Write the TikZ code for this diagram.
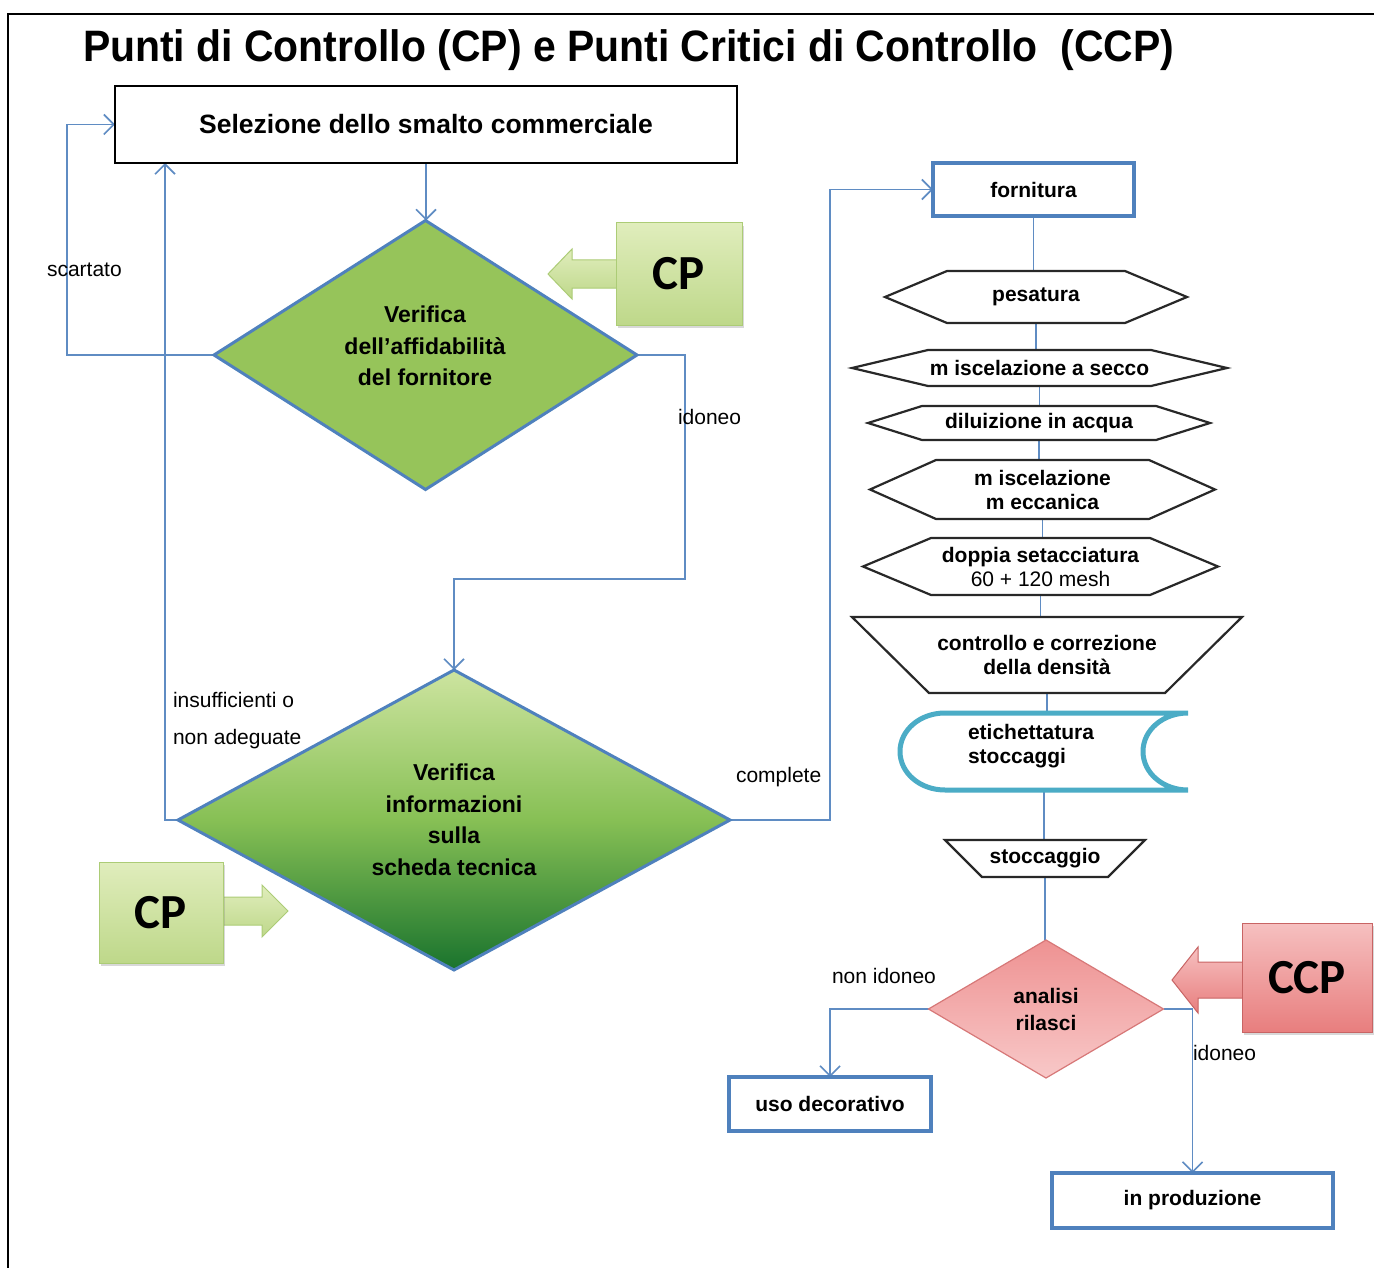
\documentclass[tikz,border=0pt]{standalone}
\usepackage{fontspec}
\setmainfont{Liberation Sans}
\newfontfamily\titlefont{Liberation Sans}[FakeStretch=0.93]
\newfontfamily\cpfont{Carlito}
\usetikzlibrary{arrows.meta,shapes.geometric,calc,shadows}
\pgfdeclarelayer{bgl}
\pgfdeclarelayer{lines}
\pgfdeclarelayer{shapes}
\pgfsetlayers{bgl,lines,shapes,main}
\definecolor{connc}{RGB}{95,140,195}
\definecolor{dblue}{RGB}{79,129,189}
\definecolor{gone}{RGB}{150,196,90}
\definecolor{gtwotop}{RGB}{205,228,160}
\definecolor{gtwomid}{RGB}{135,192,85}
\definecolor{gtwobot}{RGB}{25,115,45}
\definecolor{cptop}{RGB}{224,237,188}
\definecolor{cpbot}{RGB}{190,216,138}
\definecolor{cpline}{RGB}{172,204,118}
\definecolor{ccptop}{RGB}{246,192,192}
\definecolor{ccpbot}{RGB}{232,126,126}
\definecolor{ccpline}{RGB}{200,100,100}
\definecolor{pinktop}{RGB}{238,146,146}
\definecolor{pinkbot}{RGB}{248,200,200}
\definecolor{pinkline}{RGB}{215,120,120}
\definecolor{tealc}{RGB}{75,172,198}
\definecolor{shapeline}{RGB}{40,40,40}
\newcommand\myfs[2]{\fontsize{#1}{#2}\selectfont}
\newcommand\hexout[2]{%
  \begin{pgfonlayer}{shapes}
  \draw[outline] (#1.west) -- ([xshift=#2pt]#1.north west) -- ([xshift=-#2pt]#1.north east) -- (#1.east) -- ([xshift=-#2pt]#1.south east) -- ([xshift=#2pt]#1.south west) -- cycle;
  \end{pgfonlayer}}
\newcommand\trapout[2]{%
  \begin{pgfonlayer}{shapes}
  \draw[outline] (#1.north west) -- (#1.north east) -- ([xshift=-#2pt]#1.south east) -- ([xshift=#2pt]#1.south west) -- cycle;
  \end{pgfonlayer}}
\begin{document}
\begin{tikzpicture}[x=1pt,y=-1pt,
  every node/.style={inner sep=0pt, outer sep=0pt},
  conn/.style={draw=connc, line width=1.6pt, -{Straight Barb[length=10pt,width=20pt]}},
  plain/.style={draw=connc, line width=1.6pt},
  bluebox/.style={draw=dblue, line width=4pt, fill=white, font=\bfseries\myfs{21}{24}, align=center},
  frame/.style={draw=none, font=\bfseries\myfs{21}{24}, align=center},
  outline/.style={draw=shapeline, line width=2.2pt, fill=white, line join=miter},
  lbl/.style={anchor=west, font=\myfs{21}{24}},
  dtext/.style={font=\bfseries\myfs{23}{31.5}, align=center},
  cpfill/.style={top color=cptop, bottom color=cpbot, draw=cpline, line width=1pt},
  ccpfill/.style={top color=ccptop, bottom color=ccpbot, draw=ccpline, line width=1pt},
  cptext/.style={font=\cpfont\bfseries\myfs{49}{49}},
  shad/.style={drop shadow={shadow xshift=2pt, shadow yshift=-3pt, opacity=0.3}},
]
\useasboundingbox (0,0) rectangle (1374,1268);
\begin{pgfonlayer}{bgl}
\fill[white] (0,0) rectangle (1374,1268);
\end{pgfonlayer}
\draw[line width=2.5pt] (8,1268) -- (8,14) -- (1374,14);

% title
\node[anchor=base west, font=\titlefont\bfseries\myfs{44}{50}] (title) at (83,62)
  {Punti di Controllo (CP) e Punti Critici di Controllo~~(CCP)};

% left part
\node[draw=black, line width=2pt, fill=white, minimum width=622pt, minimum height=77pt,
  font=\bfseries\myfs{26.5}{30}] (sel) at (426,124.5) {Selezione dello smalto commerciale};

\node[diamond, draw=dblue, line width=3pt, fill=gone, minimum width=423pt, minimum height=269pt] (d1) at (425.5,355) {};
\node[dtext] (d1t) at (425,346) {Verifica\\dell'affidabilità\\del fornitore};

\node[diamond, draw=dblue, line width=3pt, top color=gtwotop, bottom color=gtwobot, middle color=gtwomid,
  minimum width=552pt, minimum height=300pt, dtext] (d2) at (454,820) {Verifica\\informazioni\\sulla\\scheda tecnica};

% CP callouts
\node[cpfill, shad, minimum width=126pt, minimum height=102pt, cptext] (cp1) at (679,274) {CP};
\begin{pgfonlayer}{shapes}
\path[cpfill] (620,260) -- (572,260) -- (572,249) -- (548,274) -- (572,299) -- (572,288) -- (620,288) -- cycle;
\end{pgfonlayer}

\node[cpfill, shad, minimum width=124pt, minimum height=101pt, cptext] (cp2) at (161,912.5) {CP};
\begin{pgfonlayer}{shapes}
\path[cpfill] (218,897) -- (262,897) -- (262,885) -- (288,911) -- (262,937) -- (262,925) -- (218,925) -- cycle;
\end{pgfonlayer}

% right column
\node[bluebox, minimum width=201pt, minimum height=53pt] (forn) at (1033.5,189.5) {fornitura};

\node[frame, minimum width=302pt, minimum height=52pt] (pesa) at (1036,297) {pesatura};
\hexout{pesa}{62}
\node[frame, minimum width=375pt, minimum height=36pt] (misa) at (1039.5,368) {m iscelazione a secco};
\hexout{misa}{76}
\node[frame, minimum width=342pt, minimum height=34pt] (dil) at (1039,423) {diluizione in acqua};
\hexout{dil}{54}
\node[frame, minimum width=345pt, minimum height=59pt] (misb) at (1042.5,489.5) {m iscelazione\\m eccanica};
\hexout{misb}{66}
\node[frame, minimum width=355pt, minimum height=57pt] (dop) at (1040.5,566.5) {doppia setacciatura\\\mdseries 60 + 120 mesh};
\hexout{dop}{68}
\node[frame, minimum width=390pt, minimum height=76pt] (ctrl) at (1047,655) {controllo e correzione\\della densità};
\trapout{ctrl}{77}
\node[frame, minimum width=288pt, minimum height=77pt] (et) at (1044,751.5) {};
\begin{pgfonlayer}{shapes}
\draw[draw=tealc, line width=5pt, fill=white] (945,713) -- (1188,713)
  .. controls (1163,713) and (1143,730) .. (1143,751.5)
  .. controls (1143,773) and (1163,790) .. (1188,790) -- (945,790)
  .. controls (920,790) and (900,773) .. (900,751.5)
  .. controls (900,730) and (920,713) .. (945,713) -- cycle;
\end{pgfonlayer}
\node[frame, align=left, anchor=west] (ett) at (968,746) {etichettatura\\stoccaggi};
\node[frame, minimum width=200pt, minimum height=37pt] (stoc) at (1045,858.5) {stoccaggio};
\trapout{stoc}{37}

\node[diamond, draw=pinkline, line width=1.2pt, top color=pinktop, bottom color=pinkbot,
  minimum width=235pt, minimum height=138pt, font=\bfseries\myfs{21}{27}, align=center] (ana) at (1046,1009) {analisi\\rilasci};

\node[ccpfill, shad, minimum width=130pt, minimum height=109pt, cptext] (ccp) at (1307,977.5) {CCP};
\begin{pgfonlayer}{shapes}
\path[ccpfill] (1248,962) -- (1198,962) -- (1198,947) -- (1172,980) -- (1198,1013) -- (1198,998) -- (1248,998) -- cycle;
\end{pgfonlayer}

\node[bluebox, minimum width=202pt, minimum height=54pt] (uso) at (830,1104) {uso decorativo};
\node[bluebox, minimum width=281pt, minimum height=55pt] (prod) at (1192.5,1200.5) {in produzione};

% labels
\node[lbl] (lscart) at (47,270) {scartato};
\node[lbl] (lid1) at (678,417) {idoneo};
\node[lbl] (lins) at (173,700) {insufficienti o};
\node[lbl] (lnon) at (173,739) {non adeguate};
\node[lbl] (lcomp) at (736,777) {complete};
\node[lbl] (lnid) at (832,976) {non idoneo};
\node[lbl] (lid2) at (1193,1053) {idoneo};

% connectors
\begin{pgfonlayer}{lines}
\draw[conn] (sel.south) -- (sel.south |- d1.north);
\draw[conn] (d1.west) -- ++(-147,0) |- (sel.west);
\draw[conn] (d1.east) -- ++(48,0) -- ++(0,224) -| (d2.north);
\draw[conn] (d2.west) -- ++(-13,0) -- ($(sel.south west)+(50,0)$);
\draw[conn] (d2.east) -- ++(100,0) |- (forn.west);
\draw[plain] (forn.south) -- (forn.south |- pesa.north);
\draw[plain] (pesa.south) -- (pesa.south |- misa.north);
\draw[plain] (misa.south) -- (misa.south |- dil.north);
\draw[plain] (dil.south) -- (dil.south |- misb.north);
\draw[plain] (misb.south) -- (misb.south |- dop.north);
\draw[plain] (dop.south) -- (dop.south |- ctrl.north);
\draw[plain] (ctrl.south) -- (ctrl.south |- et.north);
\draw[plain] (et.south) -- (et.south |- stoc.north);
\draw[plain] (stoc.south) -- (stoc.south |- ana.north);
\draw[conn] (ana.west) -| (uso.north);
\draw[conn] (ana.east) -| (prod.north);
\end{pgfonlayer}
\end{tikzpicture}
\end{document}
